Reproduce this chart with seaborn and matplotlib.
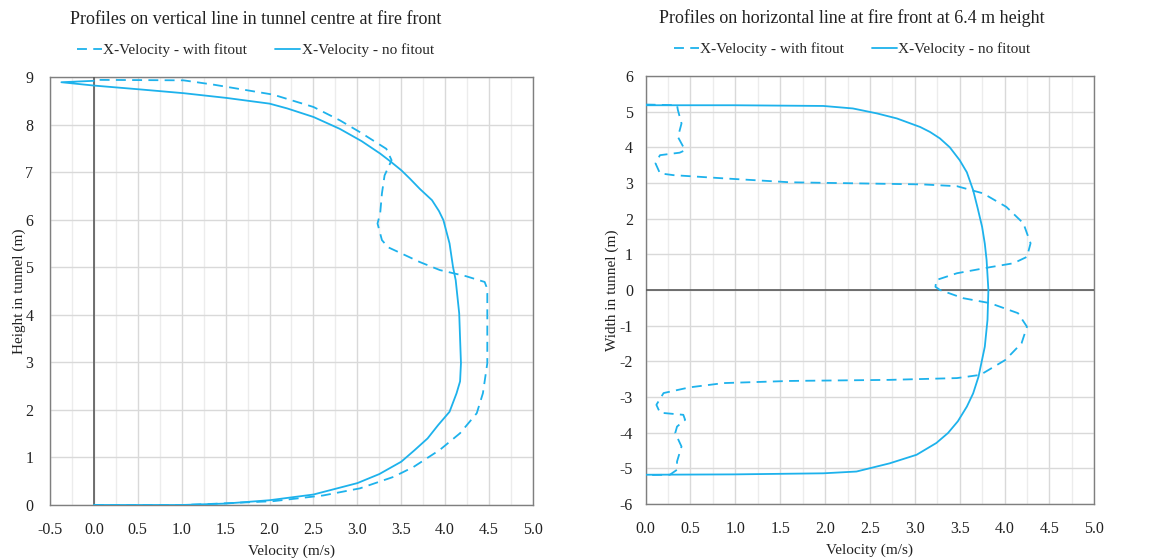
import numpy as np
import pandas as pd
import matplotlib
matplotlib.use("Agg")
import matplotlib.pyplot as plt
import seaborn as sns
from matplotlib.ticker import MultipleLocator
from matplotlib.lines import Line2D

# ---------------- data ----------------
# Left chart: vertical line in tunnel centre (velocity, height)
left_nofit_v = [0.0, 1.0, 1.5, 2.0, 2.5, 3.0, 3.25, 3.5, 3.65, 3.8, 3.92, 4.05, 4.13, 4.17, 4.18,
                4.16, 4.12, 4.09, 4.05, 3.98, 3.93, 3.85, 3.71, 3.60, 3.50, 3.38, 3.26, 3.05,
                2.80, 2.50, 2.20, 2.00, 1.51, 1.02, 0.52, 0.0, -0.37, 0.0]
left_nofit_h = [0.0, 0.0, 0.03, 0.10, 0.22, 0.46, 0.65, 0.91, 1.15, 1.40, 1.68, 1.96, 2.35, 2.60, 2.98,
                4.03, 4.73, 5.00, 5.50, 5.99, 6.18, 6.41, 6.65, 6.86, 7.04, 7.22, 7.39, 7.65,
                7.91, 8.16, 8.34, 8.44, 8.56, 8.66, 8.74, 8.82, 8.89, 8.92]

left_fit_v = [0.0, 1.0, 1.3, 2.04, 2.61, 3.03, 3.41, 3.64, 3.94, 4.17, 4.36, 4.43, 4.48, 4.48, 4.47,
              4.45, 4.24, 3.94, 3.71, 3.49, 3.35, 3.28, 3.23, 3.26, 3.28, 3.31, 3.39, 3.33, 3.03,
              2.80, 2.50, 2.04, 1.36, 1.02, 0.0]
left_fit_h = [0.0, 0.0, 0.02, 0.08, 0.20, 0.35, 0.59, 0.80, 1.16, 1.51, 1.93, 2.35, 2.98, 4.45, 4.59,
              4.69, 4.81, 4.94, 5.11, 5.30, 5.42, 5.57, 5.92, 6.13, 6.55, 6.93, 7.25, 7.49, 7.84,
              8.09, 8.37, 8.63, 8.84, 8.93, 8.94]

# Right chart: horizontal line at 6.4 m height (velocity, width)
right_nofit_v = [0.0, 0.98, 1.98, 2.31, 2.58, 2.80, 3.06, 3.17, 3.28, 3.39, 3.50, 3.58, 3.65, 3.70,
                 3.75, 3.78, 3.80, 3.82, 3.81, 3.78, 3.71, 3.65, 3.58, 3.48, 3.37, 3.24, 3.02,
                 2.72, 2.35, 1.98, 0.98, 0.0]
right_nofit_w = [5.18, 5.18, 5.16, 5.09, 4.95, 4.81, 4.57, 4.43, 4.25, 4.00, 3.64, 3.30, 2.80, 2.30,
                 1.77, 1.30, 0.84, 0.0, -0.84, -1.59, -2.43, -2.90, -3.27, -3.68, -4.01, -4.29, -4.62,
                 -4.86, -5.09, -5.14, -5.17, -5.18]

right_fit_v = [0.0, 0.35, 0.36, 0.40, 0.36, 0.44, 0.38, 0.16, 0.11, 0.16, 0.31, 0.87, 1.61, 2.35,
               3.09, 3.47, 3.76, 4.02, 4.21, 4.29, 4.25, 4.10, 3.84, 3.47, 3.24, 3.23, 3.28, 3.54,
               3.84, 4.15, 4.25, 4.19, 4.01, 3.73, 3.47, 2.72, 1.61, 0.87, 0.49, 0.20, 0.12, 0.16,
               0.42, 0.44, 0.35, 0.33, 0.40, 0.35, 0.35, 0.27, 0.0]
right_fit_w = [5.20, 5.18, 5.04, 4.67, 4.29, 3.92, 3.85, 3.78, 3.55, 3.27, 3.22, 3.13, 3.02, 2.99,
               2.96, 2.91, 2.71, 2.33, 1.87, 1.31, 0.93, 0.75, 0.64, 0.47, 0.28, 0.09, 0.0, -0.23,
               -0.37, -0.65, -1.03, -1.49, -1.96, -2.38, -2.47, -2.52, -2.55, -2.61, -2.73, -2.89,
               -3.22, -3.44, -3.50, -3.64, -3.83, -4.01, -4.39, -4.81, -5.04, -5.18, -5.19]

left_title = "Profiles on vertical line in tunnel centre at fire front"
right_title = "Profiles on horizontal line at fire front at 6.4 m height"
label_fit = "X-Velocity - with fitout"
label_nofit = "X-Velocity - no fitout"
xlabel = "Velocity (m/s)"
left_ylabel = "Height in tunnel (m)"
right_ylabel = "Width in tunnel (m)"

# ---------------- styling ----------------
sns.set_theme(style="white")
plt.rcParams['font.family'] = ['Liberation Serif', 'DejaVu Serif']

COLOR = "#1DB2EC"
SPINE = "#7f7f7f"
GRID_MAJ = "#d9d9d9"
GRID_MIN = "#ececec"
DASH = (0, (5.5, 3.5))

fig = plt.figure(figsize=(11.76, 5.58), dpi=100)
axL = fig.add_axes([0.0425, 0.095, 0.4107, 0.767])
axR = fig.add_axes([0.549, 0.0968, 0.3815, 0.767])


def draw(ax, fv, fy, nv, ny):
    df_fit = pd.DataFrame({"v": fv, "y": fy})
    df_nof = pd.DataFrame({"v": nv, "y": ny})
    sns.lineplot(data=df_fit, x="v", y="y", sort=False, estimator=None, ax=ax,
                 color=COLOR, linewidth=1.3, linestyle=DASH, zorder=4)
    sns.lineplot(data=df_nof, x="v", y="y", sort=False, estimator=None, ax=ax,
                 color=COLOR, linewidth=1.3, zorder=5)


draw(axL, left_fit_v, left_fit_h, left_nofit_v, left_nofit_h)
draw(axR, right_fit_v, right_fit_w, right_nofit_v, right_nofit_w)

for ax, xmin, (ymin, ymax), title, ylab, cx, ypad, ylpad in [
        (axL, -0.5, (0, 9), left_title, left_ylabel, 0.425, 12, -0.5),
        (axR, 0.0, (-6, 6), right_title, right_ylabel, 0.46, 9, 0.5)]:
    ax.set_xlim(xmin, 5.0)
    ax.set_ylim(ymin, ymax)
    ax.xaxis.set_major_locator(MultipleLocator(0.5))
    ax.xaxis.set_minor_locator(MultipleLocator(0.25))
    ax.yaxis.set_major_locator(MultipleLocator(1))
    ax.xaxis.set_major_formatter(plt.FuncFormatter(lambda v, p: f"{v:.1f}"))
    ax.yaxis.set_major_formatter(plt.FuncFormatter(lambda v, p: f"{v:.0f}"))
    ax.grid(True, which="major", color=GRID_MAJ, linewidth=1.0, zorder=0)
    ax.grid(True, which="minor", axis="x", color=GRID_MIN, linewidth=1.0, zorder=0)
    ax.set_axisbelow(True)
    for s in ax.spines.values():
        s.set_visible(True)
        s.set_color(SPINE)
        s.set_linewidth(1.0)
    ax.tick_params(axis="both", which="both", length=0, labelsize=11.5, colors="#222222")
    ax.tick_params(axis="x", pad=12)
    ax.tick_params(axis="y", pad=ypad)
    ax.set_xlabel(xlabel, fontsize=11, color="#222222", labelpad=5)
    ax.set_ylabel(ylab, fontsize=11, color="#222222", labelpad=ylpad)
    ax.text(cx, 1.0 + 58 / 428, title, transform=ax.transAxes, ha="center", va="center",
            fontsize=13, color="#222222")
    handles = [Line2D([], [], color=COLOR, linewidth=1.3, linestyle=DASH),
               Line2D([], [], color=COLOR, linewidth=1.3)]
    ax.legend(handles, [label_fit, label_nofit], loc="center",
              bbox_to_anchor=(cx, 1.0 + 27 / 428), ncol=2, frameon=False, fontsize=11,
              handlelength=1.65, handletextpad=0.1, columnspacing=1.8,
              borderaxespad=0, borderpad=0)

# zero reference lines
axL.axvline(0, color="#595959", linewidth=1.2, zorder=3)
axR.axhline(0, color="#595959", linewidth=1.2, zorder=3)

fig.savefig("out.png", dpi=100)
